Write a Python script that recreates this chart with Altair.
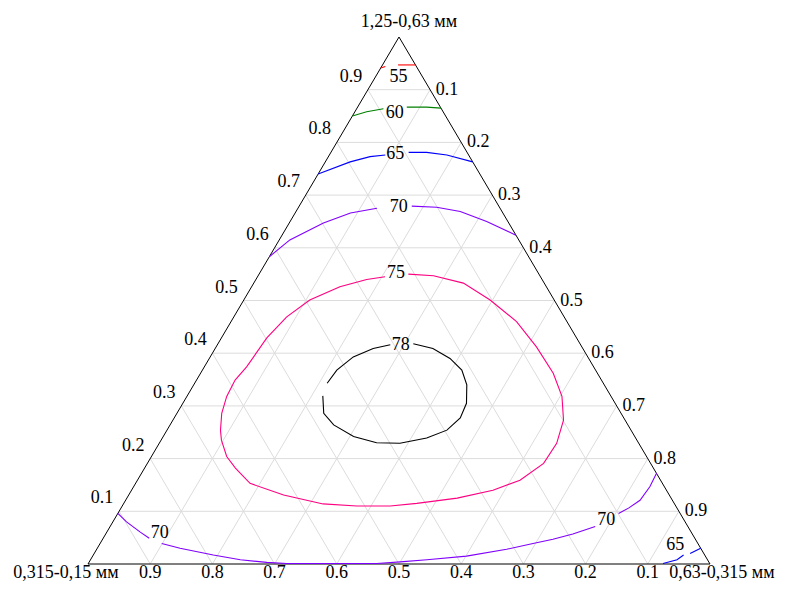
import altair as alt
import pandas as pd

# ---- data (ternary shares: a = top "1,25-0,63 мм", c = right "0,63-0,315 мм") ----
LEVELS = [55, 60, 65, 70, 75, 78]
COLORS = ["#ff0000", "#008000", "#0000ff", "#8000ff", "#ff0080", "#000000"]

TICKS = [0.1, 0.2, 0.3, 0.4, 0.5, 0.6, 0.7, 0.8, 0.9]
TICK_TEXT = ["0.1", "0.2", "0.3", "0.4", "0.5", "0.6", "0.7", "0.8", "0.9"]

CORNER_TOP = "1,25-0,63 мм"
CORNER_LEFT = "0,315-0,15 мм"
CORNER_RIGHT = "0,63-0,315 мм"

c55 = [
    [(0.941, 0.000), (0.944, 0.006)],
    [(0.947, 0.025), (0.947, 0.053)],
]
c60 = [
    [(0.850, 0.000), (0.858, 0.019), (0.864, 0.043)],
    [(0.867, 0.079), (0.867, 0.111), (0.865, 0.135)],
]
c65_top = [
    [(0.740, 0.000), (0.763, 0.040), (0.773, 0.067), (0.776, 0.090)],
    [(0.781, 0.125), (0.781, 0.154), (0.776, 0.189), (0.763, 0.237)],
]
c65_bottom = [
    [(0.001, 0.924), (0.008, 0.943), (0.017, 0.949)],
    [(0.020, 0.958), (0.030, 0.970)],
]
c70_top = [
    [(0.583, 0.000), (0.615, 0.017), (0.647, 0.055), (0.666, 0.089), (0.675, 0.127)],
    [(0.679, 0.181), (0.677, 0.222), (0.669, 0.264), (0.650, 0.316), (0.624, 0.376)],
]
c70_bottom = [
    [(0.096, 0.000), (0.080, 0.022), (0.061, 0.053), (0.049, 0.074)],
    [(0.039, 0.099), (0.030, 0.133), (0.017, 0.193), (0.008, 0.241), (0.003, 0.286),
     (0.001, 0.319), (0.001, 0.464), (0.004, 0.500), (0.008, 0.541), (0.015, 0.601),
     (0.028, 0.659), (0.039, 0.696), (0.047, 0.724), (0.057, 0.751), (0.071, 0.780)],
    [(0.096, 0.805), (0.106, 0.816), (0.121, 0.827), (0.147, 0.830), (0.172, 0.828)],
]
c75 = [
    [(0.550, 0.240), (0.547, 0.282), (0.533, 0.337), (0.501, 0.396), (0.460, 0.459),
     (0.412, 0.515), (0.362, 0.567), (0.318, 0.603), (0.273, 0.628), (0.229, 0.639),
     (0.191, 0.637), (0.159, 0.615), (0.140, 0.581), (0.125, 0.531), (0.115, 0.471),
     (0.110, 0.431), (0.110, 0.377), (0.114, 0.321), (0.131, 0.249), (0.153, 0.184),
     (0.182, 0.146), (0.204, 0.121), (0.235, 0.097), (0.254, 0.086), (0.286, 0.072),
     (0.318, 0.064), (0.349, 0.062), (0.374, 0.068), (0.429, 0.073), (0.469, 0.085),
     (0.501, 0.106), (0.526, 0.142), (0.540, 0.178), (0.545, 0.205)],
]
c78 = [
    [(0.418, 0.314), (0.409, 0.350), (0.390, 0.387), (0.368, 0.417), (0.340, 0.439),
     (0.305, 0.456), (0.277, 0.460), (0.254, 0.450), (0.239, 0.425), (0.229, 0.387),
     (0.230, 0.349), (0.242, 0.306), (0.264, 0.263), (0.286, 0.236), (0.319, 0.218)],
    [(0.343, 0.213), (0.368, 0.216), (0.393, 0.230), (0.409, 0.254), (0.416, 0.278)],
]

CONTOURS = [
    (55, "a", c55), (60, "a", c60), (65, "t", c65_top), (65, "b", c65_bottom),
    (70, "t", c70_top), (70, "b", c70_bottom), (75, "a", c75), (78, "a", c78),
]

# contour label positions (level, a, c)
CLABELS = [
    (55, 0.924, 0.037), (60, 0.856, 0.065), (65, 0.778, 0.105), (70, 0.677, 0.161),
    (75, 0.552, 0.219), (78, 0.416, 0.295), (70, 0.059, 0.086), (70, 0.084, 0.791),
    (65, 0.036, 0.926),
]

# ---- layout ----
W, H = 769, 574
PX0, PY0, SX, SY = 88, 564, 622, 527  # triangle placement in page pixels
xs = alt.Scale(domain=[(8 - PX0) / SX, (8 + W - PX0) / SX], nice=False, zero=False)
ys = alt.Scale(domain=[(PY0 - 8 - H) / SY, (PY0 - 8) / SY], nice=False, zero=False)


def cart(a, c):
    return c + a / 2.0, a


# grid
grid_rows = []
for t in TICKS:
    x1, y1 = cart(t, 0.0); x2, y2 = cart(t, 1 - t)
    grid_rows.append(dict(x=x1, y=y1, x2=x2, y2=y2))
    x1, y1 = cart(0.0, t); x2, y2 = cart(1 - t, t)
    grid_rows.append(dict(x=x1, y=y1, x2=x2, y2=y2))
    x1, y1 = cart(0.0, 1 - t); x2, y2 = cart(1 - t, 0.0)
    grid_rows.append(dict(x=x1, y=y1, x2=x2, y2=y2))
grid_df = pd.DataFrame(grid_rows)

edge_rows = []
for (a1, c1), (a2, c2) in [((0, 0), (0, 1)), ((0, 0), (1, 0)), ((0, 1), (1, 0))]:
    x1, y1 = cart(a1, c1); x2, y2 = cart(a2, c2)
    edge_rows.append(dict(x=x1, y=y1, x2=x2, y2=y2))
edge_df = pd.DataFrame(edge_rows)

line_rows = []
for lev, name, segs in CONTOURS:
    for si, seg in enumerate(segs):
        for i, (a, c) in enumerate(seg):
            x, y = cart(a, c)
            line_rows.append(dict(level=lev, seg=f"{lev}{name}{si}", i=i, x=x, y=y))
line_df = pd.DataFrame(line_rows)

lab_rows = []
for lev, a, c in CLABELS:
    x, y = cart(a, c)
    lab_rows.append(dict(label=str(lev), x=x, y=y))
lab_df = pd.DataFrame(lab_rows)

left_df = pd.DataFrame([dict(label=s, x=cart(t, 0)[0], y=t) for t, s in zip(TICKS, TICK_TEXT)])
right_df = pd.DataFrame([dict(label=s, x=cart(1 - t, t)[0], y=1 - t) for t, s in zip(TICKS, TICK_TEXT)])
bottom_df = pd.DataFrame([dict(label=s, x=cart(0, 1 - t)[0], y=0.0) for t, s in zip(TICKS, TICK_TEXT)])

FONT = "Liberation Serif"
FS = 18

X = alt.X("x:Q", scale=xs, axis=None)
Y = alt.Y("y:Q", scale=ys, axis=None)

grid = alt.Chart(grid_df).mark_rule(color="#dcdcdc", strokeWidth=1).encode(
    x=X, y=Y, x2="x2:Q", y2="y2:Q")
edges = alt.Chart(edge_df).mark_rule(color="#000000", strokeWidth=1).encode(
    x=X, y=Y, x2="x2:Q", y2="y2:Q")
lines = alt.Chart(line_df).mark_line(strokeWidth=1.1).encode(
    x=X, y=Y,
    color=alt.Color("level:N", scale=alt.Scale(domain=LEVELS, range=COLORS), legend=None),
    detail="seg:N", order="i:Q")


def texts(df, dx, dy, align="center", baseline="middle"):
    return alt.Chart(df).mark_text(font=FONT, fontSize=FS, color="#000000", align=align,
                                   baseline=baseline, dx=dx, dy=dy).encode(x=X, y=Y, text="label:N")


clabels = texts(lab_df, 0, 0)
left_t = texts(left_df, -17, -13)
right_t = texts(right_df, 17, 0)
bottom_t = texts(bottom_df, 0, 14, baseline="alphabetic")

corner_df_top = pd.DataFrame([dict(label=CORNER_TOP, x=cart(1, 0)[0], y=1.0)])
corner_df_left = pd.DataFrame([dict(label=CORNER_LEFT, x=cart(0, 0)[0], y=0.0)])
corner_df_right = pd.DataFrame([dict(label=CORNER_RIGHT, x=cart(0, 1)[0], y=0.0)])
c_top = texts(corner_df_top, 10, -15)
c_left = texts(corner_df_left, -22, 14, baseline="alphabetic")
c_right = texts(corner_df_right, 12, 14, baseline="alphabetic")

chart = alt.layer(grid, edges, lines, clabels, left_t, right_t, bottom_t, c_top, c_left, c_right).properties(
    width=W, height=H, autosize=alt.AutoSizeParams(type="none"), padding=0,
    background="white"
).configure_view(stroke=None)

chart.save("out.html", embed_options={"renderer": "svg", "actions": False})
